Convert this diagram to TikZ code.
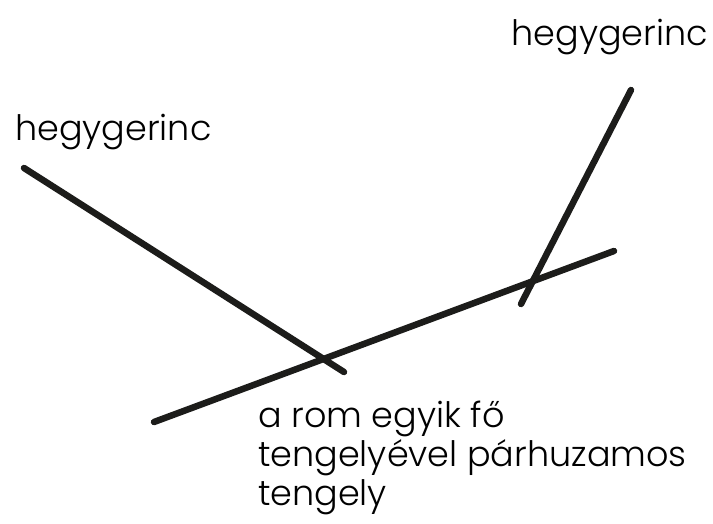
\documentclass[tikz,border=0pt]{standalone}
\usepackage{fontspec}
\setmainfont{Poppins Light}
\usepackage{xcolor}
\definecolor{pencil}{HTML}{1C1C1A}

\begin{document}
\begin{tikzpicture}[x=1pt,y=-1pt,
    ridge/.style={draw=pencil,line width=6.5pt,line cap=round},
    lbl/.style={font=\fontsize{35}{39}\selectfont,inner sep=0pt}]
    \useasboundingbox (0,0) rectangle (713,523);
    % ridges
    \coordinate (ridgeAtop) at (24,168);
    \coordinate (ridgeAend) at (344,372);
    \coordinate (ridgeBtop) at (631,90);
    \coordinate (ridgeBend) at (521,304);
    % axis
    \coordinate (axisA) at (154,422);
    \coordinate (axisB) at (614,251);
    \draw[ridge] (ridgeAtop) -- (ridgeAend);
    \draw[ridge] (axisA) -- (axisB);
    \draw[ridge] (ridgeBtop) -- (ridgeBend);

    % labels
    \node[lbl,anchor=base east] (ridgeBlbl) at (708,45) {hegygerinc};
    \node[lbl,anchor=base west] (ridgeAlbl) at (15,140) {hegygerinc};
    \node[lbl,anchor=base west,align=left] (axislbl) at (258,505)
        {a rom egyik fő\\tengelyével párhuzamos\\tengely};
\end{tikzpicture}
\end{document}
